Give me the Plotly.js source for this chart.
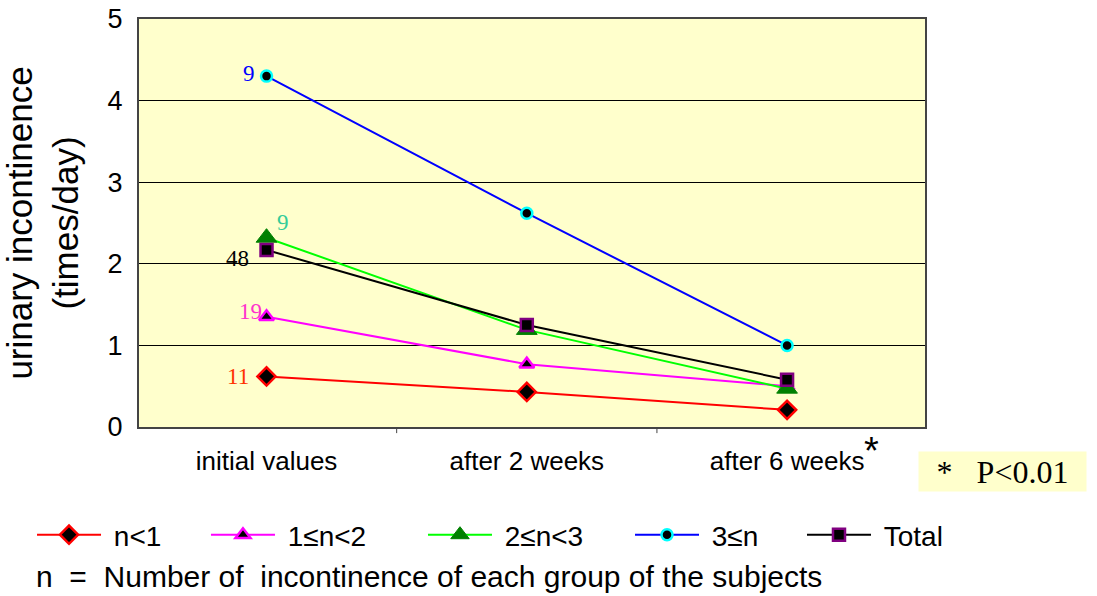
<!DOCTYPE html>
<html><head><meta charset="utf-8">
<script src="https://cdn.plot.ly/plotly-3.0.1.min.js"></script>
<style>html,body{margin:0;padding:0;background:#fff}</style>
</head><body>
<div id="chart" style="width:1097px;height:596px"></div>
<script>
var categories = ["initial values", "after 2 weeks", "after 6 weeks"];
var seriesNames = ["n<1", "1\u2264n<2", "2\u2264n<3", "3\u2264n", "Total"];
var nLt1 = [0.62, 0.43, 0.21];
var n1to2 = [1.35, 0.77, 0.50];
var n2to3 = [2.32, 1.19, 0.47];
var n3up = [4.30, 2.62, 1.00];
var total = [2.17, 1.25, 0.58];
var groupCounts = ["11", "19", "9", "9", "48"];
var yTicks = [0, 1, 2, 3, 4, 5];

var xIdx = [0, 1, 2];
var legendNames = ["legend", "legend2", "legend3", "legend4", "legend5"];
function tr(i, y, lineColor, sym, fill, border, size, bw) {
  return {x: xIdx, y: y, name: "\u00a0" + seriesNames[i], type: "scatter", mode: "lines+markers",
    legend: legendNames[i],
    line: {color: lineColor, width: 2},
    marker: {symbol: sym, color: fill, size: size, line: {color: border, width: bw}}};
}
var data = [
  tr(0, nLt1, "#ff0000", "diamond", "#000000", "#ff0000", 14, 2.5),
  tr(1, n1to2, "#ff00ff", "triangle-up", "#000000", "#ff00ff", 13, 2.5),
  tr(2, n2to3, "#00ff00", "triangle-up", "#008000", "#008000", 18, 1),
  tr(3, n3up, "#0000ff", "circle", "#000000", "#00ffff", 11, 2.5),
  tr(4, total, "#000000", "square", "#000000", "#800080", 12, 2.5)
];

var annotations = [
  {x: 0, y: nLt1[0], text: groupCounts[0], color: "#ff3300", ax: -29, ay: 0},
  {x: 0, y: n1to2[0], text: groupCounts[1], color: "#ff33cc", ax: -16, ay: -5},
  {x: 0, y: n2to3[0], text: groupCounts[2], color: "#33cc99", ax: 16, ay: -15},
  {x: 0, y: n3up[0], text: groupCounts[3], color: "#0000ff", ax: -18, ay: -3},
  {x: 0, y: total[0], text: groupCounts[4], color: "#000000", ax: -29, ay: 9}
].map(function(a){
  return {x: a.x, y: a.y, xref: "x", yref: "y", text: a.text, showarrow: true,
    arrowcolor: "rgba(0,0,0,0)", ax: a.ax, ay: a.ay, arrowwidth: 0.1,
    font: {family: "Liberation Serif, Times New Roman, serif", size: 23, color: a.color}};
});
annotations.push({xref: "paper", yref: "paper", x: 0.9315, y: -0.003, xanchor: "center", yanchor: "top",
  text: "*", showarrow: false, font: {family: "Arial, Liberation Sans, sans-serif", size: 38, color: "#000"}});
annotations.push({xref: "paper", yref: "paper", x: 0.991, y: -0.0588, xanchor: "left", yanchor: "top",
  text: "*&nbsp;&nbsp;&nbsp;P&lt;0.01", showarrow: false, bgcolor: "#ffffcc", width: 165, height: 37,
  align: "center", font: {family: "Liberation Serif, Times New Roman, serif", size: 32, color: "#000"}});
annotations.push({xref: "paper", yref: "paper", x: -0.1336, y: -0.3676, xanchor: "left", yanchor: "middle",
  text: "n&nbsp;&nbsp;=&nbsp;&nbsp;Number of&nbsp;&nbsp;incontinence of each group of the subjects", showarrow: false,
  font: {family: "Arial, Liberation Sans, sans-serif", size: 30, color: "#000"}});

var legendX = [-0.1361, 0.0852, 0.3613, 0.6247, 0.8435];
var layout = {
  width: 1097, height: 596,
  margin: {l: 139, r: 172, t: 19, b: 169},
  paper_bgcolor: "#ffffff", plot_bgcolor: "#ffffcc",
  showlegend: true,
  xaxis: {range: [-0.49, 2.53], tickvals: xIdx, ticktext: categories, showgrid: false, zeroline: false,
    showline: true, linecolor: "#444", linewidth: 2, mirror: true, ticklabelstandoff: 10,
    tickfont: {family: "Arial, Liberation Sans, sans-serif", size: 26, color: "#000"}, ticklen: 0},
  yaxis: {range: [0, 5], tickvals: yTicks, showgrid: true, gridcolor: "#000", gridwidth: 1, zeroline: false,
    showline: true, linecolor: "#444", linewidth: 2, mirror: true, ticks: "", ticklen: 0,
    ticklabelstandoff: 9,
    tickfont: {family: "Arial, Liberation Sans, sans-serif", size: 27, color: "#000"},
    title: {text: "urinary incontinence<br>(times/day)", standoff: 22,
      font: {family: "Arial, Liberation Sans, sans-serif", size: 35, color: "#000"}}},
  shapes: [1, 2].map(function(v){
    return {type: "line", xref: "x", yref: "paper", x0: v - 0.5, x1: v - 0.5, y0: 0, y1: -0.015,
      line: {color: "#444", width: 1}};
  }),
  annotations: annotations
};
legendNames.forEach(function(nm, i){
  layout[nm] = {orientation: "h", x: legendX[i], y: -0.2647, xanchor: "left", yanchor: "middle",
    font: {family: "Arial, Liberation Sans, sans-serif", size: 28, color: "#000"},
    bgcolor: "rgba(0,0,0,0)", itemwidth: 64};
});
Plotly.newPlot("chart", data, layout, {displayModeBar: false, staticPlot: true});
</script>
</body></html>
